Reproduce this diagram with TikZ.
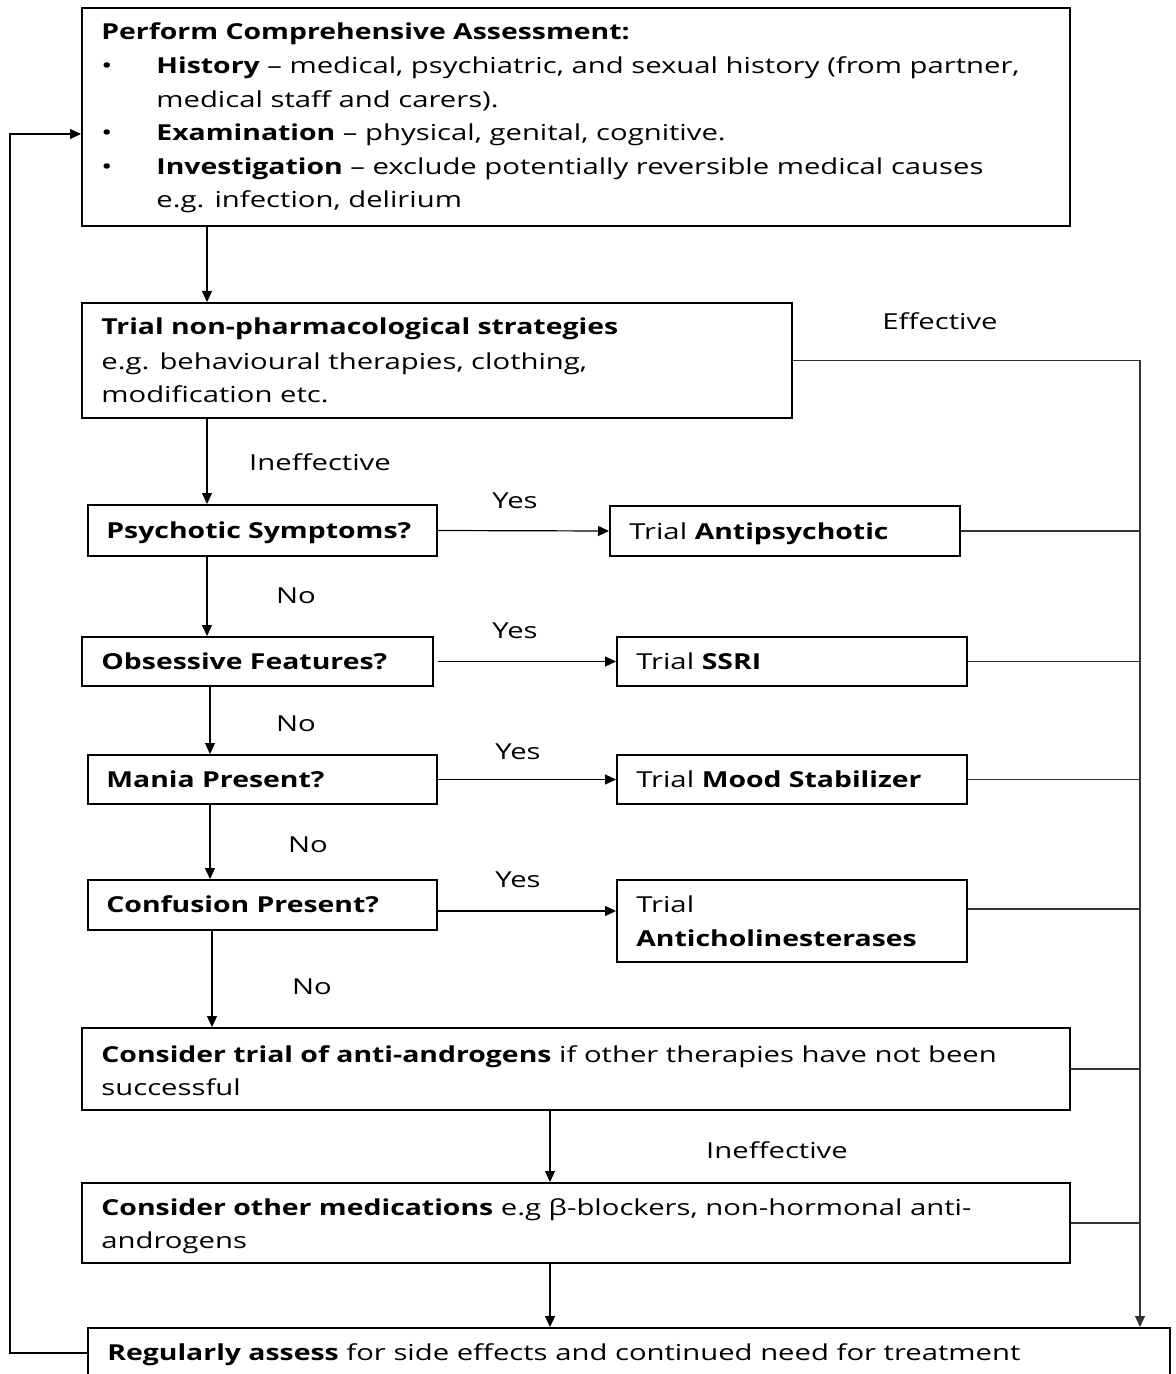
\documentclass[tikz,border=0pt]{standalone}
\usepackage{fontspec}
\setmainfont{Open Sans}[FakeStretch=1.33, BoldFeatures={FakeStretch=1.29}]
\usetikzlibrary{fit,arrows.meta}
\tikzset{
  box/.style={draw, line width=1pt, inner sep=0pt},
  arr/.style={line width=0.6pt, -{Triangle[length=5.5pt,width=5pt]}},
  con/.style={line width=0.6pt},
  rail/.style={line width=0.6pt, draw=black!80},
  txt/.style={anchor=base west, inner sep=0pt},
  lbl/.style={anchor=base, inner sep=0pt},
}
\begin{document}
\begin{tikzpicture}[x=0.5pt, y=-0.5pt, font=\fontsize{11}{16.8}\selectfont]
\useasboundingbox (0,0) rectangle (1176,1374);
\clip (0,0) rectangle (1176,1374);
\fill[white] (0,0) rectangle (1176,1374);

% boxes
\node[box, fit={(82,8) (1070,226)}] (assess) {};
\node[box, fit={(82,303) (792,418)}] (nonpharm) {};
\node[box, fit={(88,505) (437,556)}] (psych) {};
\node[box, fit={(610,506) (960,556)}] (antipsy) {};
\node[box, fit={(82,637) (433,686)}] (obsess) {};
\node[box, fit={(617,637) (967,686)}] (ssri) {};
\node[box, fit={(88,755) (437,804)}] (mania) {};
\node[box, fit={(617,755) (967,804)}] (mood) {};
\node[box, fit={(88,880) (437,930)}] (confus) {};
\node[box, fit={(617,880) (967,962)}] (achol) {};
\node[box, fit={(82,1028) (1070,1110)}] (antiandro) {};
\node[box, fit={(82,1183) (1070,1263)}] (othermed) {};
\node[box, fit={(88,1328) (1170,1378)}] (review) {};

% box texts
\node[txt] (t1a) at (101,40) {\textbf{Perform Comprehensive Assessment:}};
\node[txt] (b1) at (101,74) {•};
\node[txt] (t1b) at (156,74) {\textbf{History} – medical, psychiatric, and sexual history (from partner,};
\node[txt] (t1c) at (156,108) {medical staff and carers).};
\node[txt] (b2) at (101,141) {•};
\node[txt] (t1d) at (156,141) {\textbf{Examination} – physical, genital, cognitive.};
\node[txt] (b3) at (101,175) {•};
\node[txt] (t1e) at (156,175) {\textbf{Investigation} – exclude potentially reversible medical causes};
\node[txt] (t1f) at (156,208) {e.g. infection, delirium};

\node[txt] (t2a) at (101,335) {\textbf{Trial non-pharmacological strategies}};
\node[txt] (t2b) at (101,369) {e.g. behavioural therapies, clothing,};
\node[txt] (t2c) at (101,402) {modification etc.};

\node[txt] (t3) at (106,538) {\textbf{Psychotic Symptoms?}};
\node[txt] (t4) at (629,539) {Trial \textbf{Antipsychotic}};
\node[txt] (t5) at (101,669) {\textbf{Obsessive Features?}};
\node[txt] (t6) at (636,669) {Trial \textbf{SSRI}};
\node[txt] (t7) at (106,787) {\textbf{Mania Present?}};
\node[txt] (t8) at (636,787) {Trial \textbf{Mood Stabilizer}};
\node[txt] (t9) at (106,912) {\textbf{Confusion Present?}};
\node[txt] (t10a) at (636,912) {Trial};
\node[txt] (t10b) at (636,946) {\textbf{Anticholinesterases}};
\node[txt] (t11a) at (101,1062) {\textbf{Consider trial of anti-androgens} if other therapies have not been};
\node[txt] (t11b) at (101,1095) {successful};
\node[txt] (t12a) at (101,1215) {\textbf{Consider other medications} e.g β-blockers, non-hormonal anti-};
\node[txt] (t12b) at (101,1248) {androgens};
\node[txt] (t13) at (107,1360) {\textbf{Regularly assess} for side effects and continued need for treatment};

% lanes for the vertical connectors
\coordinate (laneA) at (207,0);
\coordinate (laneB) at (210,0);
\coordinate (laneC) at (212,0);
\coordinate (laneD) at (550,0);
\coordinate (railx) at (1140,0);
\coordinate (loopTop) at (10,134);

% main downward flow
\draw[arr] (assess.south -| laneA) -- (nonpharm.north -| laneA);
\draw[arr] (nonpharm.south -| laneA) -- (psych.north -| laneA);
\draw[arr] (psych.south -| laneA) -- (obsess.north -| laneA);
\draw[arr] (obsess.south -| laneB) -- (mania.north -| laneB);
\draw[arr] (mania.south -| laneB) -- (confus.north -| laneB);
\draw[arr] (confus.south -| laneC) -- (antiandro.north -| laneC);
\draw[arr] (antiandro.south -| laneD) -- (othermed.north -| laneD);
\draw[arr] (othermed.south -| laneD) -- (review.north -| laneD);

% yes branches
\draw[arr] (psych.east) -- (antipsy.west);
\draw[arr] ([xshift=2pt]obsess.east) -- (ssri.west);
\draw[arr] (mania.east) -- (mood.west);
\draw[arr] ([yshift=-3pt]confus.east) -- ([yshift=-3pt]confus.east -| achol.west);

% effective rail on the right
\draw[arr, draw=black!80] (nonpharm.east) -- (nonpharm.east -| railx) -- (railx |- review.north);
\draw[rail] (antipsy.east) -- (antipsy.east -| railx);
\draw[rail] (ssri.east) -- (ssri.east -| railx);
\draw[rail] (mood.east) -- (mood.east -| railx);
\draw[rail] ([yshift=-15pt]achol.north east) -- ([yshift=-15pt]achol.north east -| railx);
\draw[rail] (antiandro.east) -- (antiandro.east -| railx);
\draw[rail] (othermed.east) -- (othermed.east -| railx);

% loop back to the assessment
\draw[arr] (review.west) -- (review.west -| loopTop) -- (loopTop) -- (loopTop -| assess.west);

% connector labels
\node[lbl] (lEff) at (940,329) {Effective};
\node[lbl] (lIn1) at (320,470) {Ineffective};
\node[lbl] (lY1) at (515,508) {Yes};
\node[lbl] (lN1) at (296,603) {No};
\node[lbl] (lY2) at (515,638) {Yes};
\node[lbl] (lN2) at (296,731) {No};
\node[lbl] (lY3) at (518,759) {Yes};
\node[lbl] (lN3) at (308,852) {No};
\node[lbl] (lY4) at (518,887) {Yes};
\node[lbl] (lN4) at (312,994) {No};
\node[lbl] (lIn2) at (777,1158) {Ineffective};
\end{tikzpicture}
\end{document}
